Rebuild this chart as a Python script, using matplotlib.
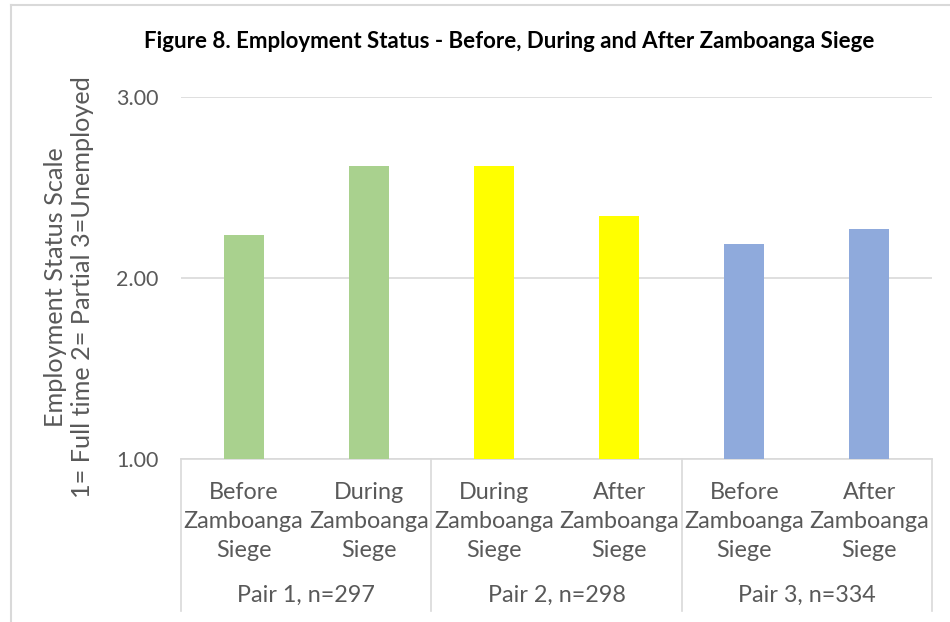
import matplotlib
matplotlib.use("Agg")
import matplotlib.pyplot as plt

# data
categories = ["Before\nZamboanga\nSiege", "During\nZamboanga\nSiege",
              "During\nZamboanga\nSiege", "After\nZamboanga\nSiege",
              "Before\nZamboanga\nSiege", "After\nZamboanga\nSiege"]
scores = [2.24, 2.62, 2.62, 2.34, 2.19, 2.27]
pair_labels = ["Pair 1, n=297", "Pair 2, n=298", "Pair 3, n=334"]
pair_colors = ["#A9D18E", "#FFFF00", "#8FAADC"]
y_ticks = [1.0, 2.0, 3.0]

grey = "#595959"
line_grey = "#D9D9D9"
plt.rcParams["font.family"] = ["Lato", "DejaVu Sans"]

fig = plt.figure(figsize=(9.5, 6.22), dpi=100)
axis = fig.add_axes([181 / 950, 1 - 459 / 622, 751 / 950, 362 / 622])

bar_colors = [pair_colors[i // 2] for i in range(len(scores))]
x = list(range(len(scores)))
axis.bar(x, [s - 1 for s in scores], bottom=1, width=0.32, color=bar_colors, zorder=3)

axis.set_xlim(-0.5, len(scores) - 0.5)
axis.set_ylim(1, 3)
axis.set_yticks(y_ticks)
axis.set_yticklabels(["%.2f" % t for t in y_ticks])
axis.tick_params(axis="y", length=0, pad=16, labelsize=15.5, labelcolor=grey)
axis.set_xticks([])
axis.grid(axis="y", color=line_grey, linewidth=1.2, zorder=0)
for side in ["top", "right", "left"]:
    axis.spines[side].set_visible(False)
axis.spines["bottom"].set_color(line_grey)
axis.spines["bottom"].set_linewidth(1.2)

# multi-level category axis
trans = axis.get_xaxis_transform()
for i, label in enumerate(categories):
    axis.text(i, -0.173, label, transform=trans, ha="center", va="center",
              fontsize=16.8, color=grey, linespacing=1.47)
for j, label in enumerate(pair_labels):
    axis.text(2 * j + 0.5, -0.378, label, transform=trans, ha="center", va="center",
              fontsize=16.8, color=grey)
for sep in [-0.5, 1.5, 3.5, 5.5]:
    axis.plot([sep, sep], [0, -0.42], transform=trans, color=line_grey,
              linewidth=1.2, clip_on=False)

fig.text(69 / 950, 1 - 287 / 622, "Employment Status Scale\n1= Full time 2= Partial 3=Unemployed",
         rotation=90, ha="center", va="center", fontsize=18.2, color=grey, linespacing=1.2)

fig.text(509 / 950, 1 - 42 / 622, "Figure 8. Employment Status - Before, During and After Zamboanga Siege",
         ha="center", va="center", fontsize=16, fontweight="bold", color="black")

# chart border
fig.add_artist(plt.Line2D([10.5 / 950, 10.5 / 950], [0, 1 - 5 / 622], color=line_grey, linewidth=1.5))
fig.add_artist(plt.Line2D([10.5 / 950, 1], [1 - 5 / 622, 1 - 5 / 622], color=line_grey, linewidth=1.5))

fig.savefig("out.png", dpi=100)
